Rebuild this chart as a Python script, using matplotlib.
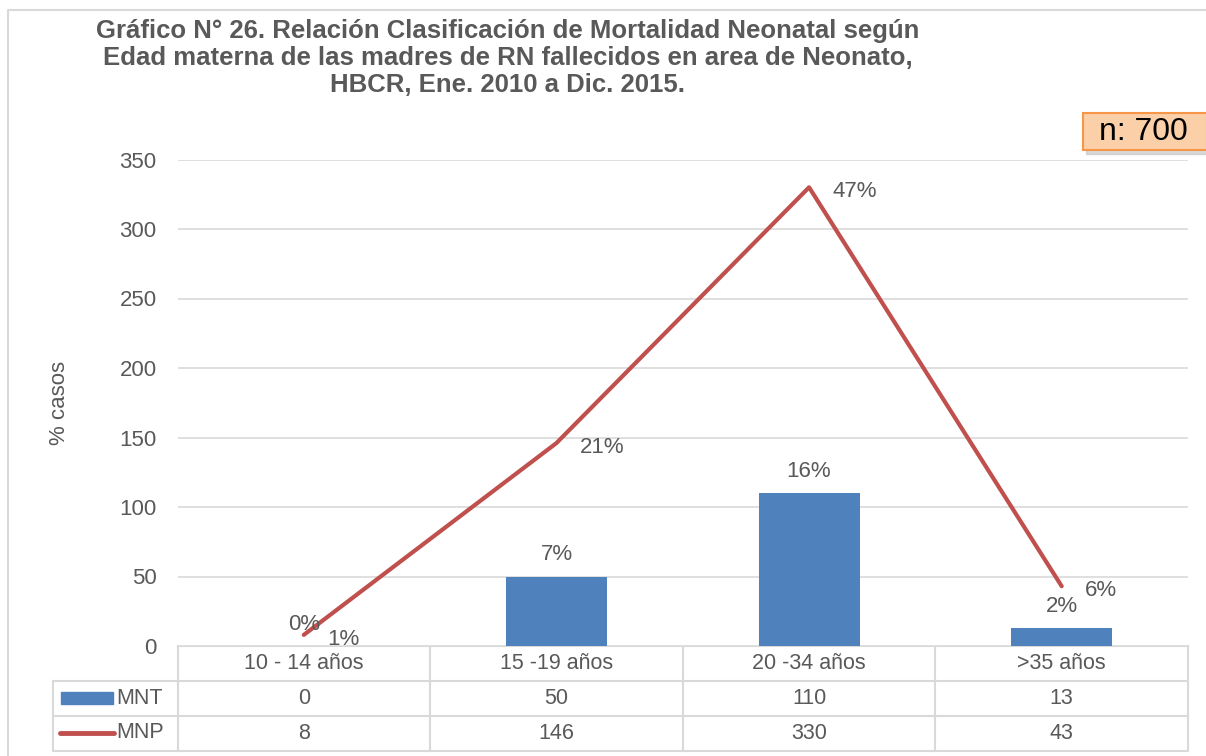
import matplotlib.pyplot as plt
import matplotlib.transforms as mtransforms
from matplotlib.patches import Rectangle

plt.rcParams['font.family'] = ['Liberation Sans', 'DejaVu Sans']

# datos
categorias = ["10 - 14 años", "15 -19 años", "20 -34 años", ">35 años"]
mnt = [0, 50, 110, 13]
mnp = [8, 146, 330, 43]
pct_mnt = ["0%", "7%", "16%", "2%"]
pct_mnp = ["1%", "21%", "47%", "6%"]

gris = "#595959"
linea = "#D9D9D9"
azul = "#4F81BD"
rojo = "#C0504D"

W, H = 1206, 756
fig = plt.figure(figsize=(W / 100, H / 100), dpi=100)

# capa en pixeles para el marco y la tabla
capa = fig.add_axes([0, 0, 1, 1])
capa.set_xlim(0, W)
capa.set_ylim(H, 0)
capa.axis("off")
capa.plot([8, 8, W], [H, 10, 10], color=linea, lw=1.5)

x0, x1, yb, yt = 177.5, 1188, 646, 159.5
ax = fig.add_axes([x0 / W, (H - yb) / H, (x1 - x0) / W, (yb - yt) / H])
x = range(len(categorias))
ax.bar(x, mnt, width=0.4, color=azul, zorder=2)
ax.plot(x, mnp, color=rojo, lw=3, zorder=3, solid_capstyle="round")
ax.set_xlim(-0.5, 3.5)
ax.set_ylim(0, 350)
ax.set_yticks(range(0, 351, 50))
ax.yaxis.grid(True, color=linea, lw=1.2)
ax.set_axisbelow(True)
ax.set_xticks([])
for s in ax.spines.values():
    s.set_visible(False)
ax.tick_params(axis="y", length=0, labelsize=16, labelcolor=gris, pad=15)
ax.set_ylabel("% casos", fontsize=16, color=gris)
ax.yaxis.set_label_coords(-0.106, 0.5)

for i in x:
    ax.annotate(pct_mnt[i], (i, mnt[i]), xytext=(0, 8), textcoords="offset points",
                ha="center", va="bottom", fontsize=16, color=gris)
    ax.annotate(pct_mnp[i], (i, mnp[i]), xytext=(17, -3), textcoords="offset points",
                ha="left", va="center", fontsize=16, color=gris)

# tabla de datos
tr = mtransforms.blended_transform_factory(ax.transData, capa.transData)
filas = [646, 681, 716, 751]
lw_t = 1.5
capa.plot([x0, x1], [filas[0]] * 2, color=linea, lw=lw_t)
for y in filas[1:]:
    capa.plot([53, x1], [y, y], color=linea, lw=lw_t)
capa.plot([53, 53], [filas[1], filas[3]], color=linea, lw=lw_t)
for b in [-0.5, 0.5, 1.5, 2.5, 3.5]:
    capa.plot([b, b], [filas[0], filas[3]], color=linea, lw=lw_t, transform=tr)

for i in x:
    capa.text(i, (filas[0] + filas[1]) / 2, categorias[i], transform=tr,
              ha="center", va="center", fontsize=15.5, color=gris)
    capa.text(i, (filas[1] + filas[2]) / 2, str(mnt[i]), transform=tr,
              ha="center", va="center", fontsize=15.5, color=gris)
    capa.text(i, (filas[2] + filas[3]) / 2, str(mnp[i]), transform=tr,
              ha="center", va="center", fontsize=15.5, color=gris)

capa.add_patch(Rectangle((61, 692), 52, 12, color=azul))
capa.plot([60, 114], [733, 733], color=rojo, lw=3.5, solid_capstyle="round")
capa.text(116, 698, "MNT", ha="left", va="center", fontsize=15.5, color=gris)
capa.text(116, 733, "MNP", ha="left", va="center", fontsize=15.5, color=gris)

# titulo
capa.text(508, 58, "Gráfico N° 26. Relación Clasificación de Mortalidad Neonatal según\n"
          "Edad materna de las madres de RN fallecidos en area de Neonato,\n"
          "HBCR, Ene. 2010 a Dic. 2015.",
          ha="center", va="center", fontsize=18.5, fontweight="bold", color=gris,
          linespacing=1.16)

# cuadro n
capa.add_patch(Rectangle((1086, 117), 124, 37, color="#BFBFBF", alpha=0.6))
capa.add_patch(Rectangle((1083, 113), 124, 37, facecolor="#FBCFA8",
                         edgecolor="#F79646", lw=1.5))
capa.text(1143, 132, "n: 700", ha="center", va="center", fontsize=23, color="black")

fig.savefig("out.png", dpi=100)
